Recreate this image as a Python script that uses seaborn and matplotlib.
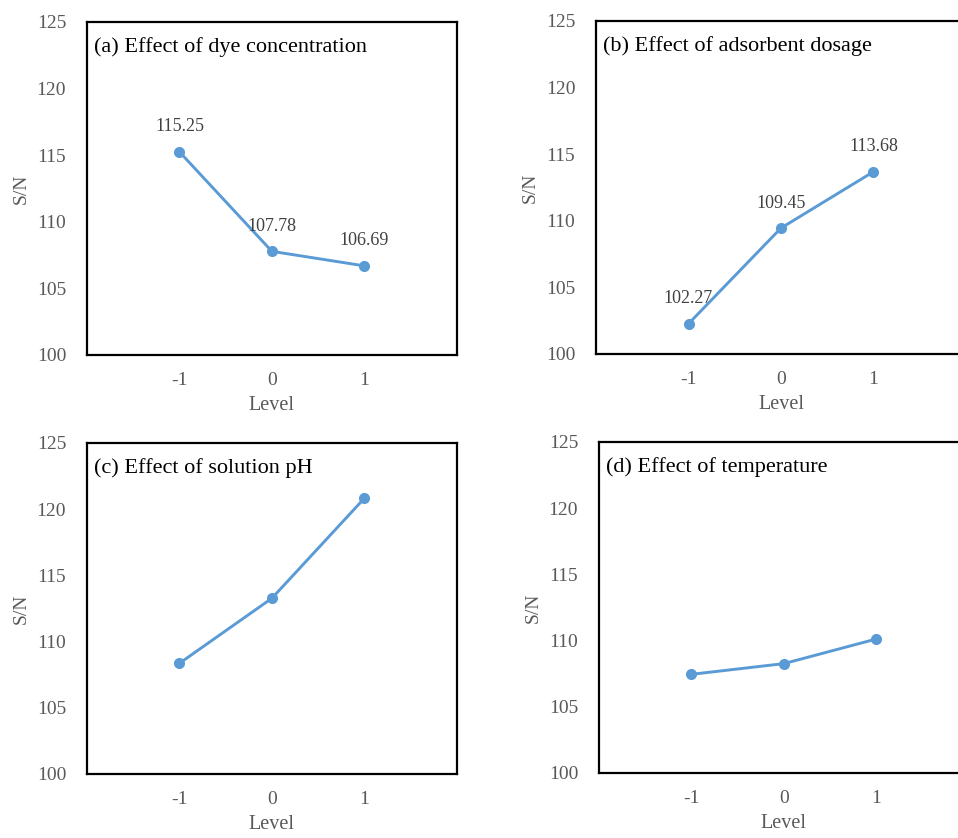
import numpy as np
import pandas as pd
import matplotlib
matplotlib.use("Agg")
import matplotlib.pyplot as plt
import seaborn as sns

# Taguchi S/N means per factor level
levels = [-1, 0, 1]
sn_dye = [115.25, 107.78, 106.69]
sn_dosage = [102.27, 109.45, 113.68]
sn_ph = [108.36, 113.27, 120.82]
sn_temp = [107.45, 108.26, 110.12]

titles = ["(a) Effect of dye concentration", "(b) Effect of adsorbent dosage",
          "(c) Effect of solution pH", "(d) Effect of temperature"]
yticks = [100, 105, 110, 115, 120, 125]

sns.set_theme(style="white")
plt.rcParams['font.family'] = ['Liberation Serif', 'DejaVu Serif']

LINE = "#5B9BD5"
GREY = "#595959"

fig = plt.figure(figsize=(9.58, 8.38), dpi=100)

# axes boxes, in figure fractions (right column runs past the edge like the source)
boxes = [
    [0.0908, 0.5764, 0.386, 0.3974],
    [0.6222, 0.5776, 0.386, 0.3974],
    [0.0908, 0.0764, 0.386, 0.3950],
    [0.6253, 0.0776, 0.386, 0.3950],
]
series = [sn_dye, sn_dosage, sn_ph, sn_temp]
show_labels = [True, True, False, False]

for box, vals, title, lab in zip(boxes, series, titles, show_labels):
    ax = fig.add_axes(box)
    df = pd.DataFrame({"Level": levels, "SN": vals})
    sns.lineplot(data=df, x="Level", y="SN", ax=ax, color=LINE, linewidth=2.1,
                 marker="o", markersize=8, markeredgewidth=0, markeredgecolor=LINE)
    ax.set_xlim(-2, 2)
    ax.set_ylim(100, 125)
    ax.set_xticks(levels)
    ax.set_xticklabels([str(l) for l in levels])
    ax.set_yticks(yticks)
    ax.tick_params(axis="y", length=0, pad=15, labelsize=14, labelcolor=GREY)
    ax.tick_params(axis="x", length=0, pad=12, labelsize=14, labelcolor=GREY)
    ax.set_xlabel("Level", fontsize=14.5, color=GREY, labelpad=5)
    ax.set_ylabel("S/N", fontsize=14, color=GREY, labelpad=5)
    for s in ax.spines.values():
        s.set_color("black")
        s.set_linewidth(1.6)
    ax.text(0.02, 0.925, title, transform=ax.transAxes, fontsize=16,
            color="black", ha="left", va="center")
    if lab:
        for x, y in zip(levels, vals):
            ax.annotate(f"{y:.2f}", (x, y), textcoords="offset points",
                        xytext=(0, 18), ha="center", va="center",
                        fontsize=13, color="#404040")

fig.savefig("out.png", dpi=100)
